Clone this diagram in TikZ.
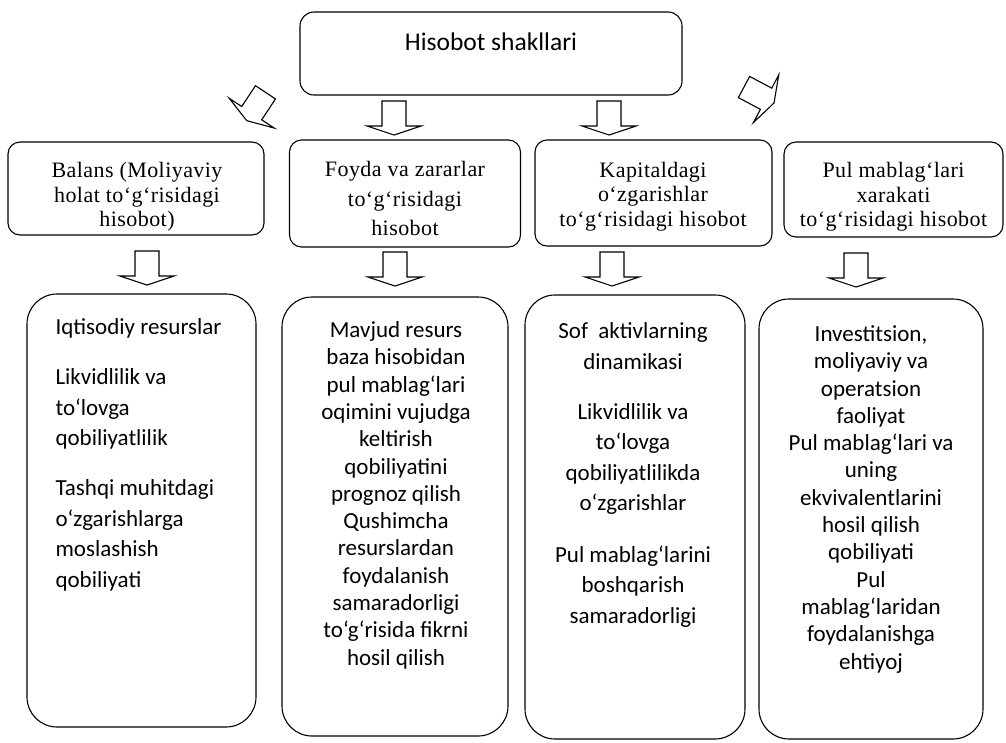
\documentclass[tikz,border=0pt]{standalone}
\usepackage{fontspec}
\newfontfamily\calfont{Carlito}
\newfontfamily\serfont[LetterSpace=2]{Liberation Serif}
\begin{document}
\begin{tikzpicture}[x=1pt,y=-1pt,line width=1.1pt,
  topbox/.style={draw, rounded corners=14pt, inner sep=0pt},
  midbox/.style={draw, rounded corners=12pt, inner sep=0pt},
  midtext/.style={inner sep=0pt, align=center, anchor=north,
    font=\serfont\fontsize{22}{24.5}\selectfont},
  lowbox/.style={draw, rounded corners=30pt, inner sep=0pt},
  lowtext/.style={inner sep=0pt, font=\calfont\fontsize{23}{30.5}\selectfont},
  pics/blockarrow/.style={code={
    \draw (-12,0) -- (-12,25) -- (-27,25) -- (0,34) -- (27,25) -- (12,25) -- (12,0) -- cycle;}}
]
\fill[white] (0,0) rectangle (1006,742);
\useasboundingbox (0,0) rectangle (1006,742);

% top
\node[topbox, minimum width=382pt, minimum height=83pt] (top) at (491,53.5) {};
\node[inner sep=0pt, font=\calfont\fontsize{25.5}{30}\selectfont] (toptxt) at (491,42) {Hisobot shakllari};

% middle boxes
\node[midbox, minimum width=256pt, minimum height=93pt] (b1) at (136,188.5) {};
\node[midbox, minimum width=231pt, minimum height=107pt] (b2) at (405,193.5) {};
\node[midbox, minimum width=237pt, minimum height=106pt] (b3) at (653.5,193) {};
\node[midbox, minimum width=219pt, minimum height=95pt] (b4) at (893.5,189.5) {};

\node[midtext] (b1t) at (137,162)
  {Balans (Moliyaviy\\holat to‘g‘risidagi\\hisobot)};
\node[midtext, font=\serfont\fontsize{22}{29.5}\selectfont] (b2t) at (405,161)
  {Foyda va zararlar\\to‘g‘risidagi\\hisobot};
\node[midtext] (b3t) at (653,161.5)
  {Kapitaldagi\\o‘zgarishlar\\to‘g‘risidagi hisobot};
\node[midtext] (b4t) at (893.5,162)
  {Pul mablag‘lari\\xarakati\\to‘g‘risidagi hisobot};

% arrows from top
\coordinate (adl) at (265.5,92.3);
\coordinate (adr) at (744,87);
\coordinate (aa) at (394,101);
\coordinate (ab) at (609,101);
\pic[rotate=-33.5] at (adl) {blockarrow};
\pic[rotate=62] at (adr) {blockarrow};
\pic at (aa) {blockarrow};
\pic at (ab) {blockarrow};

% arrows to bottom
\coordinate (a1) at (147,251);
\coordinate (a2) at (395,252);
\coordinate (a3) at (612,252);
\coordinate (a4) at (856,253);
\pic at (a1) {blockarrow};
\pic at (a2) {blockarrow};
\pic at (a3) {blockarrow};
\pic at (a4) {blockarrow};

% bottom boxes
\node[lowbox, minimum width=229pt, minimum height=433pt] (c1) at (141.5,510.5) {};
\node[lowbox, minimum width=226pt, minimum height=439pt] (c2) at (395,516.5) {};
\node[lowbox, minimum width=220pt, minimum height=444pt] (c3) at (635,517) {};
\node[lowbox, minimum width=224pt, minimum height=440pt] (c4) at (871,519) {};

\node[lowtext, anchor=north west, align=left] (t1) at (55,318)
  {Iqtisodiy resurslar\\[19.5pt]
   Likvidlilik va\\to‘lovga\\qobiliyatlilik\\[19.5pt]
   Tashqi muhitdagi\\o‘zgarishlarga\\moslashish\\qobiliyati};
\node[lowtext, anchor=north, align=center, font=\calfont\fontsize{23}{27.3}\selectfont] (t2) at (396,321)
  {Mavjud resurs\\baza hisobidan\\pul mablag‘lari\\oqimini vujudga\\keltirish\\qobiliyatini\\prognoz qilish\\Qushimcha\\resurslardan\\foydalanish\\samaradorligi\\to‘g‘risida fikrni\\hosil qilish};
\node[lowtext, anchor=north, align=center] (t3) at (633,322)
  {Sof\ \ aktivlarning\\dinamikasi\\[19.5pt]
   Likvidlilik va\\to‘lovga\\qobiliyatlilikda\\o‘zgarishlar\\[21pt]
   Pul mablag‘larini\\boshqarish\\samaradorligi};
\node[lowtext, anchor=north, align=center, font=\calfont\fontsize{23}{27.3}\selectfont] (t4) at (871,325)
  {Investitsion,\\moliyaviy va\\operatsion\\faoliyat\\Pul mablag‘lari va\\uning\\ekvivalentlarini\\hosil qilish\\qobiliyati\\Pul\\mablag‘laridan\\foydalanishga\\ehtiyoj};
\end{tikzpicture}
\end{document}
